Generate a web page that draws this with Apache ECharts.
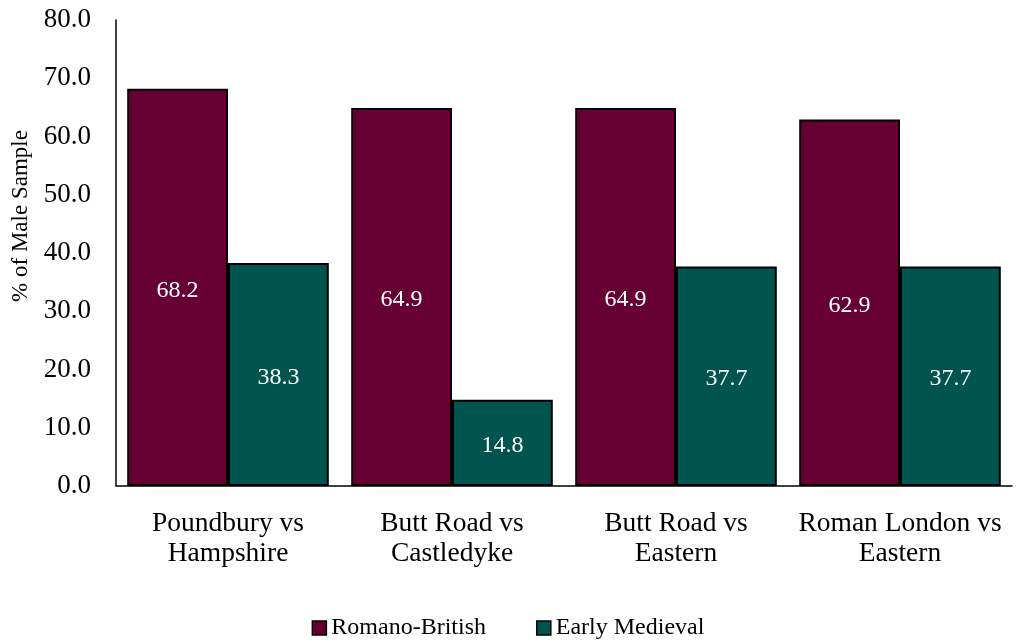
<!DOCTYPE html>
<html><head><meta charset="utf-8">
<script src="https://cdn.jsdelivr.net/npm/echarts@6/dist/echarts.min.js"></script>
<style>html,body{margin:0;padding:0;background:#fff}#c{width:1016px;height:643px}</style>
</head><body><div id="c"></div>
<script>
const categories = ["Poundbury vs\nHampshire", "Butt Road vs\nCastledyke", "Butt Road vs\nEastern", "Roman London vs\nEastern"];
const romanoBritish = [68.2, 64.9, 64.9, 62.9];
const earlyMedieval = [38.3, 14.8, 37.7, 37.7];
const seriesNames = ["Romano-British", "Early Medieval"];
const seriesColors = ["#660033", "#005450"];
const font = "'Liberation Serif','Times New Roman',serif";

const chart = echarts.init(document.getElementById('c'), null, {renderer: 'canvas'});
const mk = (name, data, color) => ({
  name, type: 'bar', data,
  barGap: '0%', barCategoryGap: '10%',
  itemStyle: {color, borderColor: '#000', borderWidth: 2},
  label: {show: true, position: 'inside', offset: [0, 3], color: '#fff', fontFamily: font, fontSize: 24,
    formatter: p => p.value.toFixed(1)}
});
chart.setOption({
  animation: false,
  textStyle: {fontFamily: font},
  grid: {left: 116, right: 4, top: 20, bottom: 157, containLabel: false},
  legend: {
    bottom: -2, left: 'center', itemWidth: 14, itemHeight: 14, itemGap: 50,
    textStyle: {fontFamily: font, fontSize: 24, color: '#000'},
    itemStyle: {borderColor: '#000', borderWidth: 1.5},
    data: seriesNames.map(n => ({name: n, icon: 'rect'}))
  },
  xAxis: {
    type: 'category', data: categories,
    axisLine: {lineStyle: {color: '#000', width: 1.5}},
    axisTick: {show: false},
    axisLabel: {fontFamily: font, fontSize: 27.5, color: '#000', lineHeight: 30, margin: 23, interval: 0}
  },
  yAxis: {
    type: 'value', min: 0, max: 80, interval: 10,
    name: '% of Male Sample', nameLocation: 'middle', nameGap: 82, nameRotate: 90,
    nameTextStyle: {fontFamily: font, fontSize: 23, color: '#000', padding: [0, 0, 0, 74]},
    axisLine: {show: true, lineStyle: {color: '#000', width: 1.5}},
    axisTick: {show: false},
    splitLine: {show: false},
    axisLabel: {fontFamily: font, fontSize: 27, color: '#000', margin: 25, formatter: v => v.toFixed(1)}
  },
  series: [mk(seriesNames[0], romanoBritish, seriesColors[0]), mk(seriesNames[1], earlyMedieval, seriesColors[1])]
});
</script></body></html>
